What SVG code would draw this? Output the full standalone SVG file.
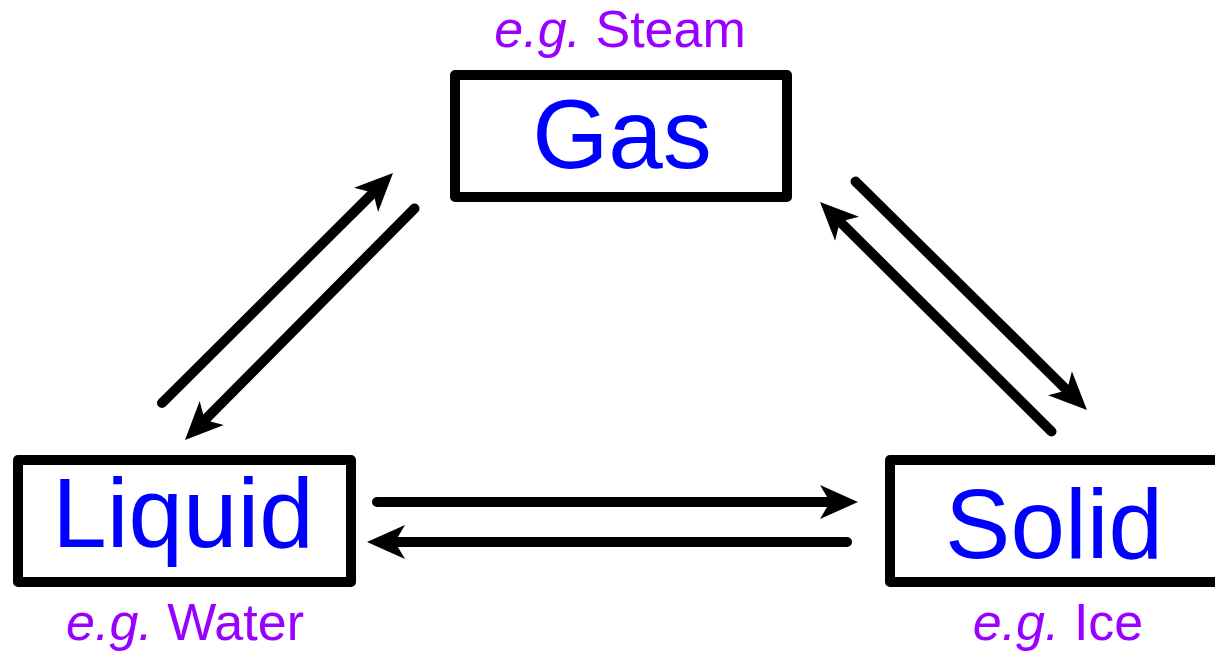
<svg xmlns="http://www.w3.org/2000/svg" width="1215" height="656" viewBox="0 0 1215 656">
  <style>
    .box { fill: #ffffff; stroke: #000000; stroke-width: 10; stroke-linejoin: round; }
    .state { font-family: "Liberation Sans", Arial, sans-serif; font-size: 98px; fill: #0000ff; text-anchor: middle; }
    .example { font-family: "Liberation Sans", Arial, sans-serif; font-size: 52px; fill: #9900ff; text-anchor: middle; }
    .example .eg { font-style: italic; }
    .flow { fill: none; stroke: #000000; stroke-width: 10; stroke-linecap: round; marker-end: url(#head); }
  </style>
  <defs>
    <marker id="head" viewBox="0 -20 40 40" refX="12" refY="0" markerWidth="40" markerHeight="40" markerUnits="userSpaceOnUse" orient="auto">
      <path d="M38,0 L0,-17 L10,0 L0,17 Z" fill="#000000"/>
    </marker>
  </defs>

  <rect width="1215" height="656" fill="#ffffff"/>

  <g id="gas">
    <text class="example" x="620" y="47"><tspan class="eg">e.g.</tspan> Steam</text>
    <rect class="box" x="455" y="75" width="332" height="122"/>
    <text class="state" x="622" y="168">Gas</text>
  </g>

  <g id="liquid">
    <rect class="box" x="18" y="460" width="333" height="122"/>
    <text class="state" x="183" y="547">Liquid</text>
    <text class="example" x="185" y="640"><tspan class="eg">e.g.</tspan> Water</text>
  </g>

  <g id="solid">
    <rect class="box" x="890" y="460" width="333" height="122"/>
    <text class="state" x="1054" y="558">Solid</text>
    <text class="example" x="1058" y="640"><tspan class="eg">e.g.</tspan> Ice</text>
  </g>

  <g id="connectors">
    <!-- liquid <-> gas -->
    <path class="flow" d="M162,403 L374.6,191.4"/>
    <path class="flow" d="M414.5,208.5 L203.3,421.5"/>
    <!-- gas <-> solid -->
    <path class="flow" d="M855.5,181.5 L1068.5,391.7"/>
    <path class="flow" d="M1051.5,431.5 L838.5,220.3"/>
    <!-- liquid <-> solid -->
    <path class="flow" d="M377,502 L832,502"/>
    <path class="flow" d="M847,542 L393,542"/>
  </g>
</svg>
